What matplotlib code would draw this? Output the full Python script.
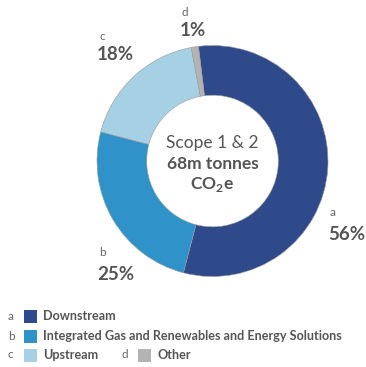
import matplotlib
matplotlib.use("Agg")
import matplotlib.pyplot as plt
from matplotlib.patches import Rectangle

letters = ["a", "b", "c", "d"]
segments = ["Downstream", "Integrated Gas and Renewables and Energy Solutions", "Upstream", "Other"]
shares = [56, 25, 18, 1]
colors = ["#2f4a8a", "#2f93c9", "#a6d0e4", "#b3b3b3"]
textgrey = "#555555"
lightgrey = "#666666"

plt.rcParams["font.family"] = ["Lato", "DejaVu Sans"]

W, H = 366, 367
fig = plt.figure(figsize=(W / 100, H / 100), dpi=100)

# overlay axes in pixel coordinates for text/legend
ov = fig.add_axes([0, 0, 1, 1])
ov.set_xlim(0, W)
ov.set_ylim(H, 0)
ov.axis("off")

# donut
cx, cy, r = 212.5, 161, 115.5
ax = fig.add_axes([(cx - r) / W, (H - cy - r) / H, 2 * r / W, 2 * r / H])
ax.pie(shares, colors=colors, startangle=97, counterclock=False,
       wedgeprops=dict(width=0.43, edgecolor="#999999", linewidth=0.4))
ax.set_xlim(-1, 1)
ax.set_ylim(-1, 1)
ax.set_aspect("auto")

# centre text
ov.text(cx, 143, "Scope 1 & 2", ha="center", va="center", fontsize=12.5, color=textgrey)
ov.text(cx, 164, "68m tonnes", ha="center", va="center", fontsize=12.5, fontweight="bold", color=textgrey)
ov.text(cx, 185, "CO$_\\mathregular{2}$e", ha="center", va="center", fontsize=12.5, fontweight="bold", color=textgrey)

# slice labels
label_pos = [(328, 213, 235), (97, 253, 275), (97, 37, 55), (180, 13, 31)]
for (x, ly, py), let, s in zip(label_pos, letters, shares):
    ov.text(x + 2, ly, let, ha="left", va="center", fontsize=8.5, color=lightgrey)
    ov.text(x, py, f"{s}%", ha="left", va="center", fontsize=13.5, fontweight="bold", color=textgrey)

# legend
leg_pos = [(8, 316), (8, 336), (8, 355), (122, 355)]
for (x, y), let, name, c in zip(leg_pos, letters, segments, colors):
    ov.text(x, y, let, ha="left", va="center", fontsize=8.5, color=lightgrey)
    ov.add_patch(Rectangle((x + 16, y - 6.5), 13, 13, facecolor=c, edgecolor="none"))
    ov.text(x + 35, y, name, ha="left", va="center", fontsize=9.1, fontweight="bold", color=textgrey)

fig.savefig("out.png", dpi=100, facecolor="white")
